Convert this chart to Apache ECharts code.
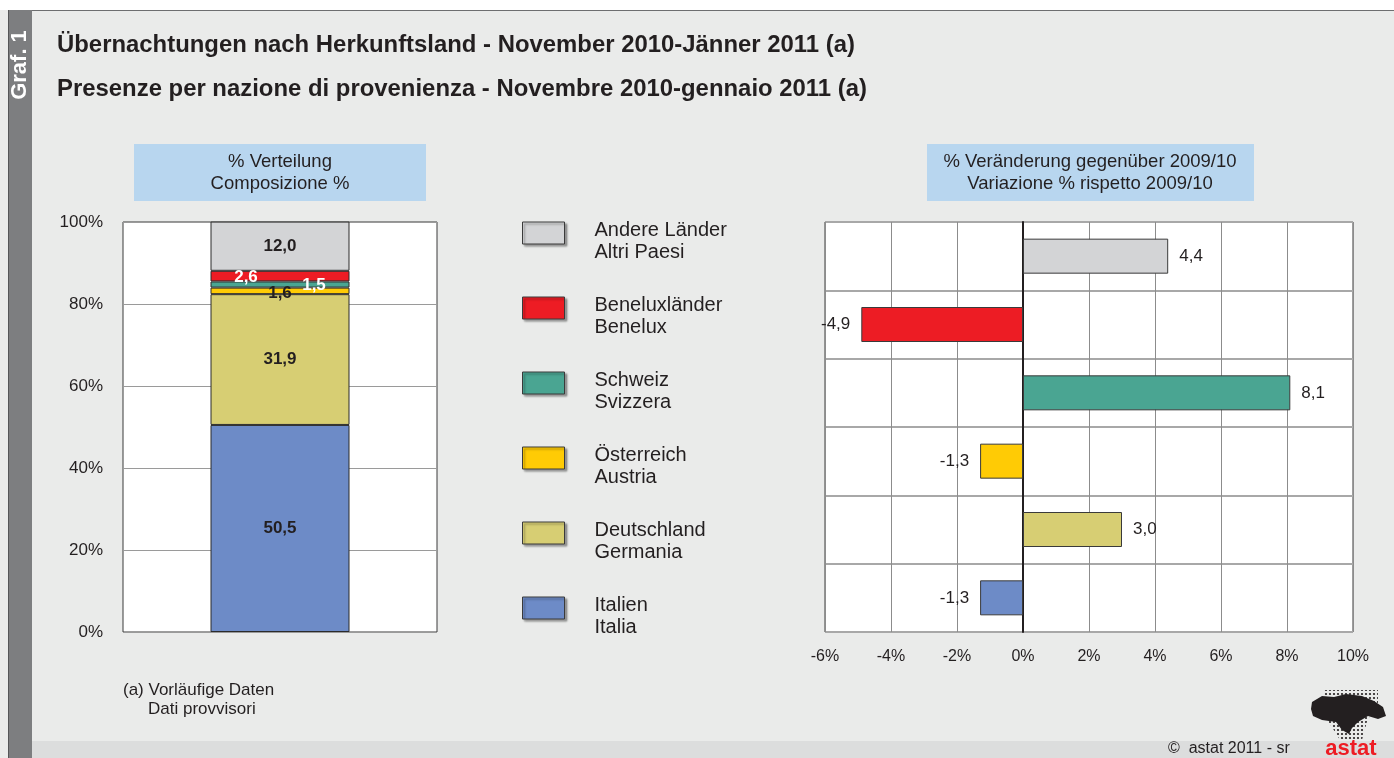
<!DOCTYPE html>
<html>
<head>
<meta charset="utf-8">
<script src="https://cdn.jsdelivr.net/npm/echarts@6/dist/echarts.min.js"></script>
<style>
html, body { margin: 0; padding: 0; }
#main { width: 1394px; height: 758px; }
</style>
</head>
<body>
<div id="main"></div>
<script>
// Reihenfolge von unten nach oben
var countries = ['Italien\nItalia', 'Deutschland\nGermania', 'Österreich\nAustria', 'Schweiz\nSvizzera', 'Beneluxländer\nBenelux', 'Andere Länder\nAltri Paesi'];
var shareValues = [50.5, 31.9, 1.6, 1.5, 2.6, 12.0];
var changeValues = [-1.3, 3.0, -1.3, 8.1, -4.9, 4.4];
var shareTicks = ['0%', '20%', '40%', '60%', '80%', '100%'];
var changeTicks = ['-6%', '-4%', '-2%', '0%', '2%', '4%', '6%', '8%', '10%'];

var colors = ['#6d8bc7', '#d7ce73', '#ffcb05', '#4aa592', '#ed1c24', '#d3d4d6'];
var labelColors = ['#231f20', '#231f20', '#231f20', '#ffffff', '#ffffff', '#231f20'];
var labelOffsets = [[0, 0], [0, 0], [0, 2], [34, 1], [-34, 1], [0, 0]];

var FONT = '"Liberation Sans", Arial, Helvetica, sans-serif';
var TXT = '#231f20';

function fmt(v) {
    return v.toFixed(1).replace('.', ',');
}

// Punktraster fuer das Logo
var dotCanvas = document.createElement('canvas');
dotCanvas.width = 4;
dotCanvas.height = 4;
var dctx = dotCanvas.getContext('2d');
dctx.fillStyle = '#231f20';
dctx.beginPath();
dctx.arc(2, 2, 1.1, 0, Math.PI * 2);
dctx.fill();

var dom = document.getElementById('main');
var myChart = echarts.init(dom);

var stackSeries = countries.map(function (name, i) {
    return {
        name: name,
        type: 'bar',
        stack: 'share',
        xAxisIndex: 0,
        yAxisIndex: 0,
        barWidth: 139,
        data: [shareValues[i]],
        itemStyle: {
            color: colors[i],
            borderColor: '#2b2b2b',
            borderWidth: 1
        },
        label: {
            show: true,
            position: 'inside',
            offset: labelOffsets[i],
            formatter: function (p) { return fmt(p.value); },
            color: labelColors[i],
            fontFamily: FONT,
            fontWeight: 'bold',
            fontSize: 17
        }
    };
});

var changeData = changeValues.map(function (v, i) {
    return {
        value: v,
        itemStyle: { color: colors[i] },
        label: { position: v < 0 ? 'left' : 'right' }
    };
});

option = {
    backgroundColor: '#eaebea',
    animation: false,
    textStyle: { fontFamily: FONT },
    legend: {
        orient: 'vertical',
        left: 522,
        top: 203,
        padding: 0,
        itemWidth: 42,
        itemHeight: 22,
        itemGap: 15,
        icon: 'rect',
        selectedMode: false,
        data: countries.slice().reverse(),
        formatter: function (name) { return '{s|}\n' + name; },
        itemStyle: {
            borderColor: '#3a3a3a',
            borderWidth: 1,
            shadowColor: 'rgba(0,0,0,0.35)',
            shadowBlur: 2,
            shadowOffsetX: 2,
            shadowOffsetY: 2
        },
        textStyle: {
            fontFamily: FONT,
            fontSize: 20,
            color: TXT,
            lineHeight: 22,
            padding: [0, 0, 0, 25],
            rich: {
                s: { fontSize: 10, lineHeight: 16 }
            }
        }
    },
    grid: [
        { left: 123, top: 222, width: 314, bottom: 126, show: true, backgroundColor: '#ffffff', borderColor: '#3a3a3a', borderWidth: 1 },
        { left: 825, top: 222, width: 528, bottom: 126, show: true, backgroundColor: '#ffffff', borderColor: '#3a3a3a', borderWidth: 1 }
    ],
    xAxis: [
        {
            gridIndex: 0,
            type: 'category',
            data: [''],
            axisLine: { show: false },
            axisTick: { show: false },
            axisLabel: { show: false }
        },
        {
            gridIndex: 1,
            type: 'value',
            min: -6,
            max: 10,
            interval: 2,
            axisLine: { show: false },
            axisTick: { show: false },
            axisLabel: {
                margin: 17,
                fontSize: 16,
                color: TXT,
                fontFamily: FONT,
                formatter: function (v) { return changeTicks[(v + 6) / 2]; }
            },
            splitLine: { lineStyle: { color: '#8c8c8c', width: 1 } }
        }
    ],
    yAxis: [
        {
            gridIndex: 0,
            type: 'value',
            min: 0,
            max: 100,
            interval: 20,
            axisLine: { show: false },
            axisTick: { show: false },
            axisLabel: {
                margin: 20,
                fontSize: 17,
                color: TXT,
                fontFamily: FONT,
                formatter: function (v) { return shareTicks[v / 20]; }
            },
            splitLine: { lineStyle: { color: '#9a9a9a', width: 1 } }
        },
        {
            gridIndex: 1,
            type: 'category',
            data: countries,
            axisLine: { show: true, onZero: true, lineStyle: { color: '#231f20', width: 2 } },
            axisTick: { show: false },
            axisLabel: { show: false },
            splitLine: { show: true, lineStyle: { color: '#a8a8a8', width: 2 } }
        }
    ],
    series: stackSeries.concat([
        {
            name: 'Veränderung',
            type: 'bar',
            xAxisIndex: 1,
            yAxisIndex: 1,
            barWidth: 35,
            data: changeData,
            itemStyle: { borderColor: '#3a3a3a', borderWidth: 1 },
            label: {
                show: true,
                distance: 11,
                formatter: function (p) { return fmt(p.value); },
                color: TXT,
                fontFamily: FONT,
                fontSize: 17
            }
        }
    ]),
    graphic: [
        { type: 'rect', shape: { x: 0, y: 0, width: 1394, height: 10 }, style: { fill: '#ffffff' } },
        { type: 'rect', shape: { x: 8, y: 10, width: 1386, height: 1 }, style: { fill: '#6d6e70' } },
        { type: 'rect', shape: { x: 32, y: 741, width: 1362, height: 17 }, style: { fill: '#dcdddd' } },
        { type: 'rect', shape: { x: 8, y: 10, width: 24, height: 748 }, style: { fill: '#7d7e80' } },
        { type: 'rect', shape: { x: 8, y: 10, width: 1, height: 748 }, style: { fill: '#555658' } },
        {
            type: 'text', x: 20, y: 65, rotation: Math.PI / 2,
            style: { text: 'Graf. 1', fill: '#ffffff', font: 'bold 22px ' + FONT, textAlign: 'center', textVerticalAlign: 'middle' }
        },
        {
            type: 'text', x: 57, y: 45,
            style: { text: 'Übernachtungen nach Herkunftsland - November 2010-Jänner 2011 (a)', fill: TXT, font: 'bold 23.9px ' + FONT, textVerticalAlign: 'middle' }
        },
        {
            type: 'text', x: 57, y: 89,
            style: { text: 'Presenze per nazione di provenienza - Novembre 2010-gennaio 2011 (a)', fill: TXT, font: 'bold 23.9px ' + FONT, textVerticalAlign: 'middle' }
        },
        { type: 'rect', shape: { x: 134, y: 144, width: 292, height: 57 }, style: { fill: '#b8d6ef' } },
        {
            type: 'text', x: 280, y: 173,
            style: { text: '% Verteilung\nComposizione %', fill: TXT, font: '18.5px ' + FONT, lineHeight: 22, textAlign: 'center', textVerticalAlign: 'middle' }
        },
        { type: 'rect', shape: { x: 927, y: 144, width: 327, height: 57 }, style: { fill: '#b8d6ef' } },
        {
            type: 'text', x: 1090, y: 173,
            style: { text: '% Veränderung gegenüber 2009/10\nVariazione % rispetto 2009/10', fill: TXT, font: '18.5px ' + FONT, lineHeight: 22, textAlign: 'center', textVerticalAlign: 'middle' }
        },
        {
            type: 'text', x: 123, y: 690,
            style: { text: '(a) Vorläufige Daten', fill: TXT, font: '17px ' + FONT, textVerticalAlign: 'middle' }
        },
        {
            type: 'text', x: 148, y: 709,
            style: { text: 'Dati provvisori', fill: TXT, font: '17px ' + FONT, textVerticalAlign: 'middle' }
        },
        {
            type: 'text', x: 1168, y: 749,
            style: { text: '©  astat 2011 - sr', fill: TXT, font: '16px ' + FONT, textVerticalAlign: 'middle' }
        },
        {
            type: 'text', x: 1351, y: 749,
            style: { text: 'astat', fill: '#ed1c24', font: 'bold 22px ' + FONT, textAlign: 'center', textVerticalAlign: 'middle' }
        },
        {
            type: 'polygon',
            shape: { points: [[1324, 690], [1378, 690], [1378, 712], [1368, 718], [1362, 740], [1340, 740], [1330, 724], [1324, 716]] },
            style: { fill: { image: dotCanvas, repeat: 'repeat' } }
        },
        {
            type: 'polygon',
            shape: { points: [[1312, 702], [1322, 696], [1334, 697], [1346, 694], [1362, 696], [1374, 701], [1383, 707], [1386, 716], [1378, 719], [1368, 716], [1358, 722], [1352, 728], [1349, 734], [1342, 730], [1336, 722], [1322, 720], [1313, 716], [1311, 709]] },
            style: { fill: '#231f20' }
        }
    ]
};

if (option && typeof option === 'object') {
    myChart.setOption(option, true);
}
</script>
</body>
</html>
